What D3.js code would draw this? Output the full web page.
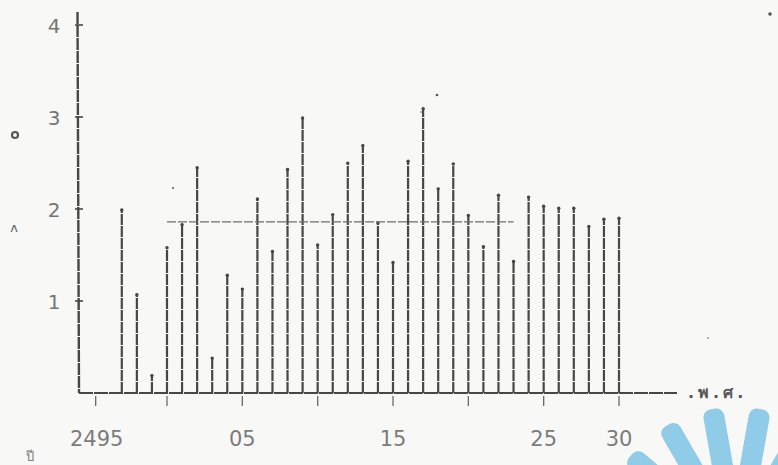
<!DOCTYPE html>
<html>
<head>
<meta charset="utf-8">
<script src="https://cdn.jsdelivr.net/npm/d3@7/dist/d3.min.js"></script>
<style>
  html, body { margin: 0; padding: 0; background: #f8f8f6; }
  svg { display: block; }
  text { font-family: "DejaVu Sans", "Noto Sans", sans-serif; }
</style>
</head>
<body>
<svg id="chart" width="778" height="465"></svg>
<script>
// Years (Buddhist Era) and yearly values
const years = [2497, 2498, 2499, 2500, 2501, 2502, 2503, 2504, 2505, 2506,
               2507, 2508, 2509, 2510, 2511, 2512, 2513, 2514, 2515, 2516,
               2517, 2518, 2519, 2520, 2521, 2522, 2523, 2524, 2525, 2526,
               2527, 2528, 2529, 2530];
const values = [2.00, 1.08, 0.20, 1.59, 1.84, 2.46, 0.39, 1.29, 1.14, 2.12,
                1.55, 2.44, 3.00, 1.62, 1.95, 2.51, 2.70, 1.86, 1.43, 2.53,
                3.10, 2.23, 2.50, 1.94, 1.60, 2.16, 1.44, 2.14, 2.04, 2.02,
                2.02, 1.82, 1.90, 1.91];

// Average level line and the span of years it covers
const meanValue = 1.86;
const meanSpan = [2500, 2523];

// Axis ticks and labels
const xTickYears = [2495, 2500, 2505, 2510, 2515, 2520, 2525, 2530];
const xLabelYears = [2495, 2505, 2515, 2525, 2530];
const xLabelText = ["2495", "05", "15", "25", "30"];
const yTicks = [1, 2, 3, 4];
const xUnit = "พ.ศ.";
const xCaption = "ปี";

const svg = d3.select("#chart");
const ink = "#474747";

const x = d3.scaleLinear().domain([2500, 2530]).range([167, 619]);
const y = d3.scaleLinear().domain([0, 4]).range([393, 25]);
const x0 = 79;

// bars: thin vertical strokes from the baseline
const barData = years.map((yr, i) => ({ yr, v: values[i] }));
const bars = svg.append("g");
bars.selectAll("line.bar")
  .data(barData)
  .join("line")
  .attr("class", "bar")
  .attr("x1", d => x(d.yr)).attr("x2", d => x(d.yr))
  .attr("y1", y(0)).attr("y2", d => y(d.v))
  .attr("stroke", ink)
  .attr("stroke-width", 2.2)
  .attr("stroke-dasharray", "11,1");
// small caps at each bar top
bars.selectAll("circle.cap")
  .data(barData)
  .join("circle")
  .attr("class", "cap")
  .attr("cx", d => x(d.yr)).attr("cy", d => y(d.v) + 1)
  .attr("r", 1.7)
  .attr("fill", ink);

// average line
svg.append("line")
  .attr("x1", x(meanSpan[0])).attr("x2", x(meanSpan[1]))
  .attr("y1", y(meanValue)).attr("y2", y(meanValue))
  .attr("stroke", "#6e6e6e")
  .attr("stroke-width", 1.1)
  .attr("stroke-dasharray", "9,2");

// y axis
svg.append("line")
  .attr("x1", x0 - 1.5).attr("x2", x0)
  .attr("y1", 12).attr("y2", y(0))
  .attr("stroke", ink).attr("stroke-width", 2.4)
  .attr("stroke-dasharray", "12,1");
svg.selectAll("line.ytick")
  .data(yTicks)
  .join("line")
  .attr("class", "ytick")
  .attr("x1", x0 - 4).attr("x2", x0 + 4)
  .attr("y1", d => y(d)).attr("y2", d => y(d))
  .attr("stroke", ink).attr("stroke-width", 1.6);
svg.selectAll("text.ylab")
  .data(yTicks)
  .join("text")
  .attr("class", "ylab")
  .attr("x", 54)
  .attr("y", d => y(d) + 8)
  .attr("text-anchor", "middle")
  .attr("font-size", 20)
  .attr("fill", "#757575")
  .text(d => d);

// x axis
svg.append("line")
  .attr("x1", x0).attr("x2", 677)
  .attr("y1", y(0)).attr("y2", y(0))
  .attr("stroke", ink).attr("stroke-width", 2)
  .attr("stroke-dasharray", "14,1");
svg.selectAll("line.xtick")
  .data(xTickYears)
  .join("line")
  .attr("class", "xtick")
  .attr("x1", d => x(d) + (d === 2495 ? 4 : 0)).attr("x2", d => x(d) + (d === 2495 ? 4 : 0))
  .attr("y1", y(0) + 3).attr("y2", y(0) + 13)
  .attr("stroke", "#6a6a6a").attr("stroke-width", 1.3);
svg.selectAll("text.xlab")
  .data(xLabelYears)
  .join("text")
  .attr("class", "xlab")
  .attr("x", d => x(d) + (d === 2495 ? 5 : 0))
  .attr("y", 446)
  .attr("text-anchor", "middle")
  .attr("font-size", 21)
  .attr("fill", "#7c7c7c")
  .text((d, i) => xLabelText[i]);

// unit and caption
svg.append("text")
  .attr("x", 688).attr("y", 398)
  .attr("font-size", 16)
  .attr("font-weight", "bold")
  .attr("fill", "#555")
  .attr("letter-spacing", 4)
  .text("." + xUnit);
svg.append("text")
  .attr("x", 30).attr("y", 461)
  .attr("text-anchor", "middle")
  .attr("font-size", 13)
  .attr("fill", "#7a7a7a")
  .text(xCaption);

// marks beside the y axis
svg.append("circle")
  .attr("cx", 15).attr("cy", 135).attr("r", 3)
  .attr("fill", "none").attr("stroke", "#555").attr("stroke-width", 2.2);
svg.append("text")
  .attr("x", 14).attr("y", 232)
  .attr("text-anchor", "middle")
  .attr("font-size", 13)
  .attr("fill", "#666")
  .text("ʌ");

// stray specks
const specks = [[437, 95, 1.3], [770, 14, 1.8], [173, 188, 1.0], [421, 112, 0.8], [708, 338, 0.8]];
svg.selectAll("circle.speck")
  .data(specks)
  .join("circle")
  .attr("class", "speck")
  .attr("cx", d => d[0]).attr("cy", d => d[1]).attr("r", d => d[2])
  .attr("fill", "#555");

// light blue emblem in the lower right corner
const cx = 736, cy = 545;
const petals = [-50, -30, -10, 10, 30];
const emblem = svg.append("g").attr("fill", "#90cce7");
petals.forEach(a => {
  emblem.append("rect")
    .attr("x", -10).attr("y", -138)
    .attr("width", 21).attr("height", 85)
    .attr("rx", 8)
    .attr("transform", `translate(${cx},${cy}) rotate(${a})`);
});
</script>
</body>
</html>
